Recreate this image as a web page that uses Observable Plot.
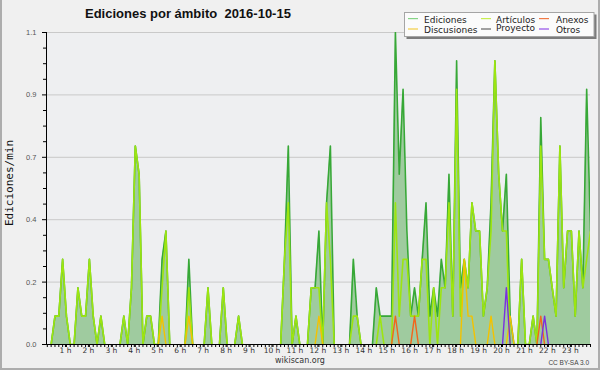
<!DOCTYPE html>
<html>
<head>
<meta charset="utf-8">
<script src="https://cdn.jsdelivr.net/npm/d3@7"></script>
<script src="https://cdn.jsdelivr.net/npm/@observablehq/plot@0.6"></script>
<style>
html, body { margin: 0; padding: 0; background: #f0f0f0; }
#wrap { position: relative; width: 600px; height: 370px; background: #f0f0f0; overflow: hidden; }
#wrap > svg { position: absolute; left: 0; top: 0; }
</style>
</head>
<body>
<div id="wrap"></div>
<script>
// 10-minute steps over the day (one row per hour, 6 values each), edits per minute
const ediciones = [
  0, 0, 0, 0.1, 0.1, 0.3,
  0.1, 0, 0, 0.2, 0.1, 0.1,
  0.3, 0.1, 0, 0.1, 0, 0,
  0, 0, 0, 0.1, 0, 0.2,
  0.7, 0.6, 0, 0.1, 0.1, 0,
  0, 0.3, 0.4, 0, 0, 0,
  0, 0, 0.3, 0, 0, 0,
  0, 0.2, 0, 0, 0, 0.2,
  0, 0, 0, 0.1, 0, 0,
  0, 0, 0, 0, 0, 0,
  0, 0, 0, 0.3, 0.7, 0,
  0.1, 0, 0, 0, 0.2, 0.2,
  0.4, 0, 0.5, 0.7, 0, 0,
  0, 0, 0, 0.3, 0.1, 0,
  0, 0, 0, 0.2, 0.1, 0.1,
  0.1, 0.1, 1.1, 0.6, 0.9, 0.4,
  0.1, 0.2, 0.1, 0.3, 0.5, 0.1,
  0.2, 0.1, 0.3, 0.2, 0.6, 0.1,
  1.0, 0.2, 0.3, 0.2, 0.5, 0.4,
  0.4, 0.1, 0.2, 0.5, 1.0, 0.6,
  0.4, 0.6, 0.1, 0, 0, 0.3,
  0, 0, 0.1, 0, 0.8, 0.3,
  0.3, 0.2, 0.1, 0.7, 0.2, 0.4,
  0.4, 0.1, 0.4, 0.2, 0.9, 0.4
];
const articulos = [
  0, 0, 0, 0.1, 0.1, 0.3,
  0.1, 0, 0, 0.2, 0.1, 0.1,
  0.3, 0.1, 0, 0.1, 0, 0,
  0, 0, 0, 0.1, 0, 0.2,
  0.7, 0.6, 0, 0.1, 0.1, 0,
  0, 0.2, 0.4, 0, 0, 0,
  0, 0, 0.2, 0, 0, 0,
  0, 0.2, 0, 0, 0, 0.2,
  0, 0, 0, 0.1, 0, 0,
  0, 0, 0, 0, 0, 0,
  0, 0, 0, 0.3, 0.5, 0,
  0.1, 0, 0, 0, 0.2, 0.2,
  0.2, 0, 0.5, 0.3, 0, 0,
  0, 0, 0, 0.1, 0.1, 0,
  0, 0, 0, 0, 0.1, 0,
  0, 0, 0.5, 0.1, 0.3, 0.3,
  0.1, 0.1, 0.1, 0.3, 0.3, 0,
  0.2, 0, 0.2, 0.2, 0.5, 0.1,
  0.9, 0.1, 0.3, 0.2, 0.5, 0.4,
  0.4, 0.1, 0.2, 0.4, 1.0, 0.6,
  0.4, 0.4, 0, 0, 0, 0.3,
  0, 0, 0.1, 0, 0.7, 0.3,
  0.3, 0.2, 0.1, 0.7, 0.2, 0.4,
  0.4, 0.1, 0.4, 0.2, 0.3, 0.4
];
const discusiones = [
  0, 0, 0, 0, 0, 0,
  0, 0, 0, 0, 0, 0,
  0, 0, 0, 0, 0, 0,
  0, 0, 0, 0, 0, 0,
  0, 0, 0, 0, 0, 0,
  0, 0.1, 0, 0, 0, 0,
  0, 0, 0.1, 0, 0, 0,
  0, 0, 0, 0, 0, 0,
  0, 0, 0, 0, 0, 0,
  0, 0, 0, 0, 0, 0,
  0, 0, 0, 0, 0, 0,
  0, 0, 0, 0, 0, 0,
  0.1, 0, 0, 0, 0, 0,
  0, 0, 0, 0, 0, 0,
  0, 0, 0, 0, 0, 0,
  0, 0, 0, 0, 0, 0,
  0, 0, 0, 0, 0, 0,
  0, 0, 0, 0, 0, 0,
  0, 0, 0.3, 0.1, 0.1, 0,
  0, 0, 0, 0.1, 0, 0,
  0, 0, 0.1, 0, 0, 0,
  0, 0, 0, 0, 0, 0,
  0, 0, 0, 0, 0, 0,
  0, 0, 0, 0, 0, 0
];
const anexos = [
  0, 0, 0, 0, 0, 0,  0, 0, 0, 0, 0, 0,  0, 0, 0, 0, 0, 0,  0, 0, 0, 0, 0, 0,
  0, 0, 0, 0, 0, 0,  0, 0, 0, 0, 0, 0,  0, 0, 0, 0, 0, 0,  0, 0, 0, 0, 0, 0,
  0, 0, 0, 0, 0, 0,  0, 0, 0, 0, 0, 0,  0, 0, 0, 0, 0, 0,  0, 0, 0, 0, 0, 0,
  0, 0, 0, 0, 0, 0,  0, 0, 0, 0, 0, 0,  0, 0, 0, 0, 0, 0,
  0, 0, 0.1, 0, 0, 0,
  0, 0.1, 0, 0, 0, 0,
  0, 0, 0, 0, 0, 0,  0, 0, 0, 0, 0, 0,  0, 0, 0, 0, 0, 0,  0, 0, 0, 0, 0, 0,
  0, 0, 0, 0, 0.1, 0,
  0, 0, 0, 0, 0, 0,  0, 0, 0, 0, 0, 0
];
const proyecto = [
  0, 0, 0, 0, 0, 0,  0, 0, 0, 0, 0, 0,  0, 0, 0, 0, 0, 0,  0, 0, 0, 0, 0, 0,
  0, 0, 0, 0, 0, 0,  0, 0, 0, 0, 0, 0,  0, 0, 0, 0, 0, 0,  0, 0, 0, 0, 0, 0,
  0, 0, 0, 0, 0, 0,  0, 0, 0, 0, 0, 0,  0, 0, 0, 0, 0, 0,  0, 0, 0, 0, 0, 0,
  0, 0, 0, 0, 0, 0,  0, 0, 0, 0, 0, 0,  0, 0, 0, 0, 0, 0,  0, 0, 0, 0, 0, 0,
  0, 0, 0, 0, 0, 0,  0, 0, 0, 0, 0, 0,  0, 0, 0, 0, 0, 0,  0, 0, 0, 0, 0, 0,
  0, 0, 0, 0, 0, 0,  0, 0, 0, 0, 0, 0,  0, 0, 0, 0, 0, 0,  0, 0, 0, 0, 0, 0
];
const otros = [
  0, 0, 0, 0, 0, 0,  0, 0, 0, 0, 0, 0,  0, 0, 0, 0, 0, 0,  0, 0, 0, 0, 0, 0,
  0, 0, 0, 0, 0, 0,  0, 0, 0, 0, 0, 0,  0, 0, 0, 0, 0, 0,  0, 0, 0, 0, 0, 0,
  0, 0, 0, 0, 0, 0,  0, 0, 0, 0, 0, 0,  0, 0, 0, 0, 0, 0,  0, 0, 0, 0, 0, 0,
  0, 0, 0, 0, 0, 0,  0, 0, 0, 0, 0, 0,  0, 0, 0, 0, 0, 0,  0, 0, 0, 0, 0, 0,
  0, 0, 0, 0, 0, 0,  0, 0, 0, 0, 0, 0,  0, 0, 0, 0, 0, 0,  0, 0, 0, 0, 0, 0,
  0, 0.2, 0, 0, 0, 0,
  0, 0, 0, 0, 0, 0.1,
  0, 0, 0, 0, 0, 0,  0, 0, 0, 0, 0, 0
];
const seriesNames = ["Ediciones", "Artículos", "Anexos", "Discusiones", "Proyecto", "Otros"];
const hourTickPos = [6, 12, 18, 24, 30, 36, 42, 48, 54, 60, 66, 72, 78, 84, 90, 96, 102, 108, 114, 120, 126, 132, 138];
const hourTickLabels = ["1 h","2 h","3 h","4 h","5 h","6 h","7 h","8 h","9 h","10 h","11 h","12 h","13 h","14 h","15 h","16 h","17 h","18 h","19 h","20 h","21 h","22 h","23 h"];
const yTickValues = [0, 0.22, 0.44, 0.66, 0.88, 1.1];
const titleText = "Ediciones por ámbito  2016-10-15";
const yTitle = "Ediciones/min";

const steps = d3.range(ediciones.length);
const rows = steps.map(i => ({i, ediciones: ediciones[i]}));
// hide flat zero runs (they sit on the axis in the original)
const visible = arr => arr.map((v, i) => (v > 0 || arr[i - 1] > 0 || arr[i + 1] > 0) ? v : NaN);
const yMinor = d3.range(0, 21).map(k => +(k * 0.055).toFixed(3)).filter((d, k) => k % 4 !== 0);
const xDomain = [0.785, steps.length - 1];

const colors = {
  Ediciones: "#37a837", Artículos: "#9de510", Anexos: "#f2661c",
  Discusiones: "#f3c200", Proyecto: "#555555", Otros: "#7a30e0"
};
const lineOpts = (arr, color, w = 1.3) => ({x: steps, y: visible(arr), stroke: color, strokeWidth: w, clip: true});

const chart = Plot.plot({
  width: 600, height: 370,
  marginLeft: 46, marginRight: 10, marginTop: 32, marginBottom: 26,
  style: {background: "transparent", fontFamily: "DejaVu Sans"},
  x: {domain: xDomain, axis: null},
  y: {domain: [0, 1.1], axis: null},
  marks: [
    Plot.frame({fill: "#eeeff1", stroke: null}),
    Plot.ruleY(yTickValues.slice(1), {stroke: "#c9c9c9"}),
    Plot.areaY(rows, {x: "i", y: "ediciones", fill: "#9fcb9f", clip: true}),
    Plot.lineY(steps, lineOpts(ediciones, colors.Ediciones, 1.6)),
    Plot.lineY(steps, lineOpts(articulos, colors["Artículos"], 1.6)),
    Plot.lineY(steps, lineOpts(proyecto, colors.Proyecto)),
    Plot.lineY(steps, lineOpts(discusiones, colors.Discusiones, 1.4)),
    Plot.lineY(steps, lineOpts(anexos, colors.Anexos, 1.4)),
    Plot.lineY(steps, lineOpts(otros, colors.Otros, 1.4)),
    Plot.ruleY([0], {stroke: "#000"}),
    Plot.ruleX([xDomain[0]], {stroke: "#000"}),
    Plot.axisY(yTickValues, {tickSize: 4, tickPadding: 6, tickFormat: d => d.toFixed(1),
      fontSize: 7.5, fontFamily: "Liberation Sans", fill: "#555", stroke: "#000", label: null}),
    Plot.axisY(yMinor, {tickSize: 3, tickFormat: () => "", stroke: "#000", label: null}),
    Plot.axisX(d3.range(1, steps.length), {tickSize: 3, tickFormat: () => "", stroke: "#000", label: null}),
    Plot.axisX(hourTickPos, {tickSize: 3, tickPadding: 0.5, dx: -1,
      tickFormat: d => hourTickLabels[hourTickPos.indexOf(d)],
      fontSize: 7.5, fontFamily: "DejaVu Sans", fill: "#333", stroke: "#000", label: null})
  ]
});
const wrap = document.getElementById("wrap");
wrap.appendChild(chart);

// overlay: title, legend, axis title, credits, frame
const ov = d3.select(wrap).append("svg").attr("width", 600).attr("height", 370)
  .style("font-family", "DejaVu Sans");
ov.append("path").attr("d", "M1,0V369H599V0").attr("fill", "none").attr("stroke", "#adadad").attr("stroke-width", 2);
ov.append("text").attr("x", 85).attr("y", 18.3).style("white-space", "pre")
  .attr("font-family", "Liberation Sans").attr("font-weight", "bold").attr("font-size", 13)
  .attr("fill", "#111").text(titleText);
ov.append("text").attr("transform", "translate(13,183) rotate(-90)").attr("text-anchor", "middle")
  .attr("font-family", "DejaVu Sans Mono").attr("font-size", 11).attr("fill", "#111").text(yTitle);
ov.append("text").attr("x", 300).attr("y", 362.5).attr("text-anchor", "middle")
  .attr("font-size", 8).attr("fill", "#333").text("wikiscan.org");
ov.append("text").attr("x", 589).attr("y", 364.5).attr("text-anchor", "end")
  .attr("font-family", "Liberation Sans").attr("font-size", 6.5).attr("fill", "#444").text("CC BY-SA 3.0");

const lg = ov.append("g");
lg.append("rect").attr("x", 406.5).attr("y", 14.5).attr("width", 190).attr("height", 24.5).attr("fill", "#7c7c7c");
lg.append("rect").attr("x", 404.5).attr("y", 12.5).attr("width", 189.5).attr("height", 24).attr("fill", "#fbfbfb").attr("stroke", "#a5a5a5");
const legendColors = {
  Ediciones: "#86d486", "Artículos": "#c8ee50", Anexos: "#f07a45",
  Discusiones: "#f4cf45", Proyecto: "#666666", Otros: "#9450ea"
};
const colX = [408, 481, 539], textX = [424, 496, 556];
const rowY = [18.6, 29], baseY = [22.6, 32.6];
const order = [["Ediciones", 0, 0], ["Artículos", 1, 0], ["Anexos", 2, 0],
               ["Discusiones", 0, 1], ["Proyecto", 1, 1], ["Otros", 2, 1]];
for (const [name, c, r] of order) {
  lg.append("line").attr("x1", colX[c]).attr("x2", colX[c] + 10).attr("y1", rowY[r]).attr("y2", rowY[r])
    .attr("stroke", legendColors[name]).attr("stroke-width", 1.2);
  lg.append("text").attr("x", textX[c]).attr("y", baseY[r] - (name === "Proyecto" ? 1.5 : 0))
    .attr("font-size", 9).attr("fill", "#222").text(name);
}
</script>
</body>
</html>
